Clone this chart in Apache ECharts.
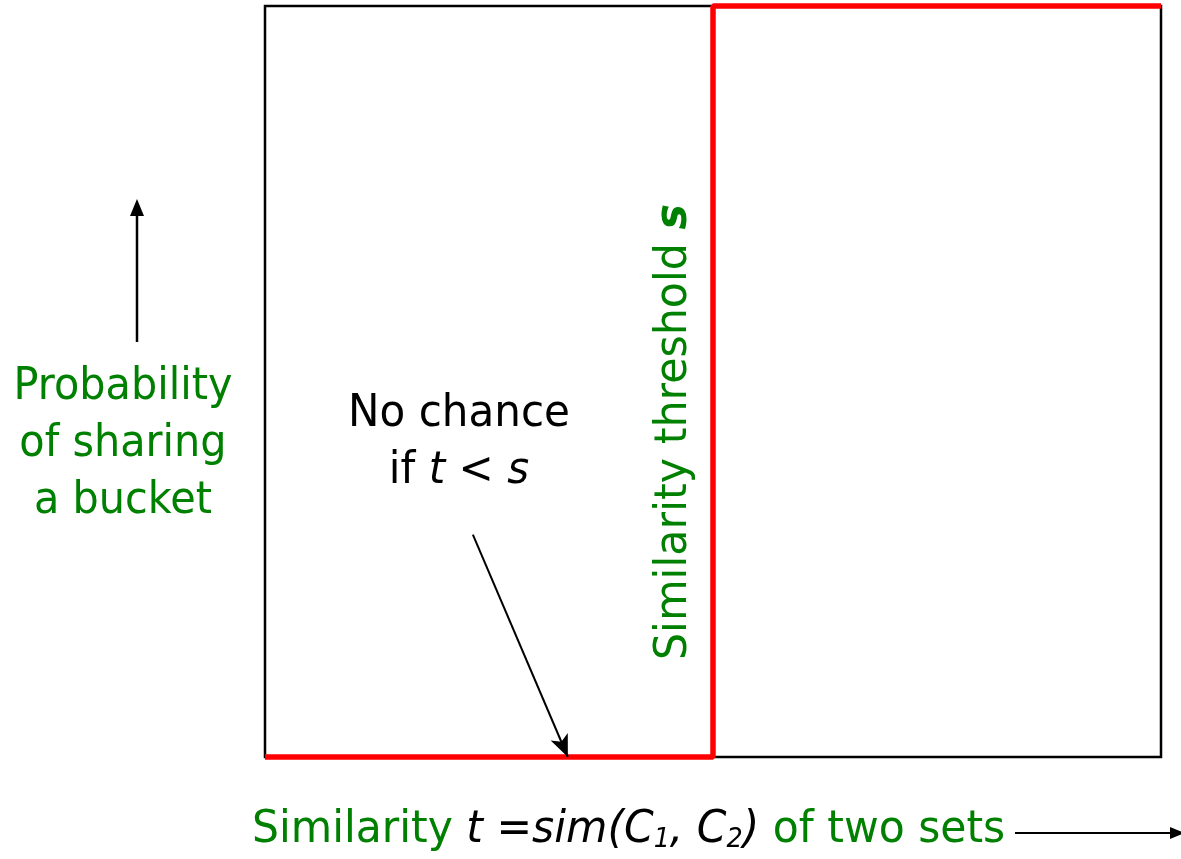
<!DOCTYPE html>
<html>
<head>
<meta charset="utf-8">
<script src="https://cdn.jsdelivr.net/npm/echarts@6/dist/echarts.min.js"></script>
<style>
html,body{margin:0;padding:0;background:#fff;}
#chart{width:1181px;height:859px;}
</style>
</head>
<body>
<div id="chart"></div>
<script>
// Step curve: probability of sharing a bucket vs similarity t (ideal, threshold s)
const thresholdS = 0.5;
const stepX = [0, 0.5, 0.5, 1];
const stepY = [0, 0, 1, 1];
// "No chance" arrow, in data coordinates [t, probability]
const noChanceArrowFrom = [0.232, 0.296];
const noChanceArrowTo = [0.338, 0];

const GREEN = '#008000';
const FONT = "'DejaVu Sans', Verdana, sans-serif";
const FS = 45;

const chart = echarts.init(document.getElementById('chart'));
chart.setOption({
  animation: false,
  backgroundColor: '#fff',
  grid: {left: 265, right: 20, top: 6, bottom: 102, show: true, borderColor: '#000', borderWidth: 2.5, backgroundColor: 'transparent'},
  xAxis: {type: 'value', min: 0, max: 1, axisLine: {show: false}, axisTick: {show: false}, axisLabel: {show: false}, splitLine: {show: false}},
  yAxis: {type: 'value', min: 0, max: 1, axisLine: {show: false}, axisTick: {show: false}, axisLabel: {show: false}, splitLine: {show: false}},
  series: [{
    type: 'line',
    data: stepX.map((x, i) => [x, stepY[i]]),
    symbol: 'none',
    clip: false,
    lineStyle: {color: '#ff0000', width: 5.5},
    markLine: {
      silent: true,
      symbol: ['none', 'arrow'],
      symbolSize: [14, 22],
      label: {show: false},
      lineStyle: {color: '#000', width: 2, type: 'solid'},
      data: [[{coord: noChanceArrowFrom}, {coord: noChanceArrowTo}]]
    }
  }],
  graphic: [
    // vertical axis arrow
    {type: 'line', shape: {x1: 137, y1: 342, x2: 137, y2: 212}, style: {stroke: '#000', lineWidth: 2.5}},
    {type: 'polygon', shape: {points: [[137, 199], [130, 216], [144, 216]]}, style: {fill: '#000'}},
    // horizontal axis arrow
    {type: 'line', shape: {x1: 1015, y1: 833, x2: 1172, y2: 833}, style: {stroke: '#000', lineWidth: 2}},
    {type: 'polygon', shape: {points: [[1185, 833], [1170, 827], [1170, 839]]}, style: {fill: '#000'}},
    {type: 'text', x: 123, y: 444, scaleX: 0.92, style: {text: 'Probability\nof sharing\na bucket', fill: GREEN, fontSize: FS, fontFamily: FONT, lineHeight: 57, align: 'center', verticalAlign: 'middle'}},
    {type: 'text', x: 459, y: 443, scaleX: 0.935, style: {text: 'No chance\nif {i|t} < {i|s}', fill: '#000', fontSize: FS, fontFamily: FONT, lineHeight: 57, align: 'center', verticalAlign: 'middle',
      rich: {i: {fontStyle: 'italic', fontSize: FS, fontFamily: FONT, fill: '#000'}}}},
    {type: 'text', x: 674, y: 432, rotation: Math.PI / 2, scaleX: 0.95, style: {text: 'Similarity threshold {b|s}', fill: GREEN, fontSize: FS, fontFamily: FONT, align: 'center', verticalAlign: 'middle',
      rich: {b: {fontStyle: 'italic', fontWeight: 'bold', fontSize: FS, fontFamily: FONT, fill: GREEN}}}},
    {type: 'text', x: 252, y: 830, scaleX: 0.944, style: {text: 'Similarity {i|t =sim(C}{s|1}{i|, C}{s|2}{i|)} of two sets', fill: GREEN, fontSize: FS, fontFamily: FONT, align: 'left', verticalAlign: 'middle',
      rich: {i: {fontStyle: 'italic', fontSize: FS, fontFamily: FONT, fill: '#000'}, s: {fontStyle: 'italic', fontSize: 27, fontFamily: FONT, fill: '#000', padding: [20, 0, 0, 0]}}}}
  ]
});
</script>
</body>
</html>
